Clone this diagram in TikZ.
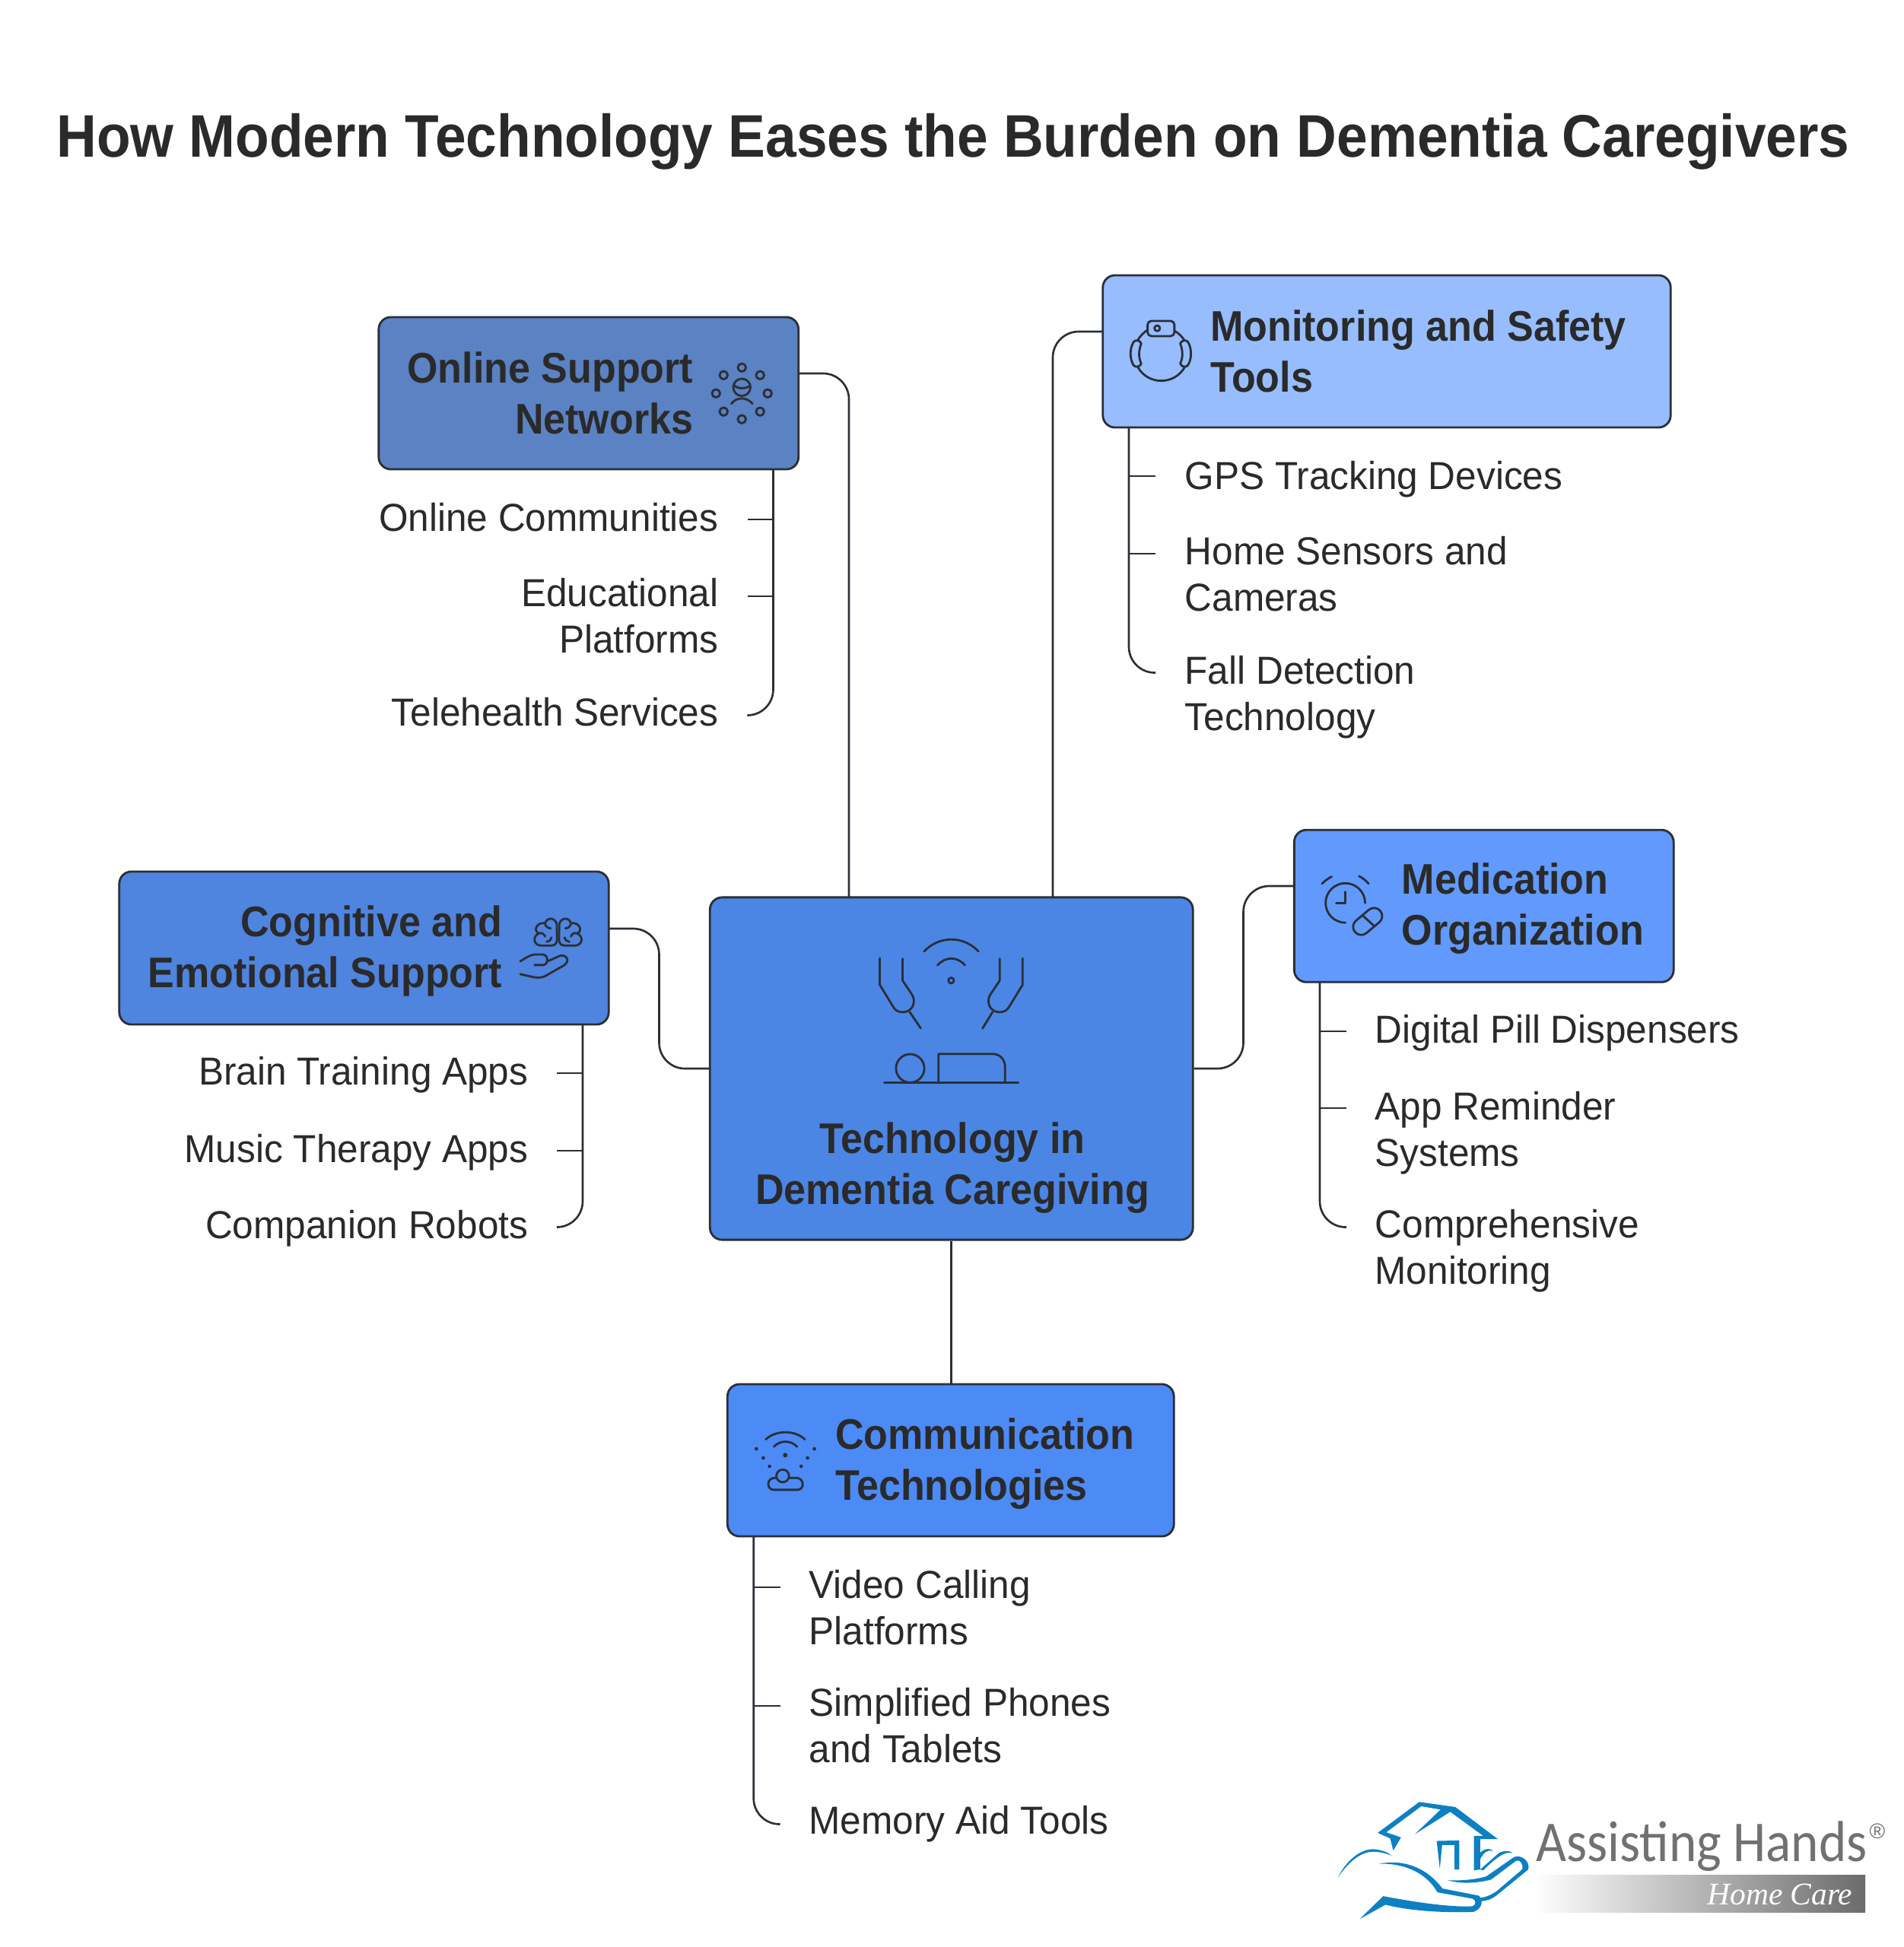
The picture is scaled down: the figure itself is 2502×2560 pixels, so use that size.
\documentclass[tikz,border=0pt]{standalone}
\usepackage{fontspec}
\setmainfont{Liberation Sans}[FakeStretch=0.965,BoldFeatures={FakeStretch=0.925}]
\newfontfamily\logofont{Carlito}
\newfontfamily\carefont{Liberation Serif}
\newfontfamily\regfont{Liberation Sans}
\definecolor{ink}{HTML}{2B2F36}
\definecolor{txt}{HTML}{2A2A2A}
\definecolor{cOnline}{HTML}{5B82C2}
\definecolor{cMonitor}{HTML}{97BDFF}
\definecolor{cMed}{HTML}{619AFC}
\definecolor{cCog}{HTML}{4F84DF}
\definecolor{cCenter}{HTML}{4B86E5}
\definecolor{cComm}{HTML}{4C8AF6}
\definecolor{logoblue}{HTML}{0D80C2}
\definecolor{logogrey}{HTML}{717171}
\tikzset{
  cardbox/.style={draw=ink,line width=0.8pt,rounded corners=0.16cm,inner sep=0pt},
  cardtext/.style={font=\fontsize{16}{19.05}\bfseries\selectfont,text=txt,inner sep=0pt},
  itemtext/.style={font=\fontsize{14.6}{17.35}\selectfont,text=txt,inner sep=0pt},
  wire/.style={draw=ink,line width=0.75pt,rounded corners=0.34cm},
  iconline/.style={draw=ink,line width=0.8pt,line cap=round,line join=round},
}
\begin{document}
\begin{tikzpicture}[x=0.01cm,y=-0.01cm]
\useasboundingbox (0,0) rectangle (2502,2560);
\fill[white] (0,0) rectangle (2502,2560);
\node[inner sep=0pt,text=txt,font=\fontsize{22.46}{26}\bfseries\selectfont] (title) at (1253,186) {How Modern Technology Eases the Burden on Dementia Caregivers};

% boxes
\node[cardbox,fill=cOnline,minimum width=5.515cm,minimum height=2cm] (online) at (773.75,517) {};
\node[cardbox,fill=cMonitor,minimum width=7.46cm,minimum height=2cm] (monitor) at (1823,462) {};
\node[cardbox,fill=cMed,minimum width=4.985cm,minimum height=2cm] (med) at (1950.75,1191.25) {};
\node[cardbox,fill=cCog,minimum width=6.43cm,minimum height=2.01cm] (cog) at (478.5,1246.5) {};
\node[cardbox,fill=cCenter,minimum width=6.345cm,minimum height=4.5cm] (center) at (1250.75,1405) {};
\node[cardbox,fill=cComm,minimum width=5.865cm,minimum height=2cm] (comm) at (1249.75,1920) {};

% card texts
\node[cardtext,anchor=east,align=right] (onlineT) at (912,516.5) {Online Support\\Networks};
\node[cardtext,anchor=west,align=left] (monitorT) at (1590.5,461.5) {Monitoring and Safety\\Tools};
\node[cardtext,anchor=west,align=left] (medT) at (1842,1194.6) {Medication\\Organization};
\node[cardtext,anchor=east,align=right] (cogT) at (661,1250) {Cognitive and\\Emotional Support};
\node[cardtext,align=center] (centerT) at (1252,1536) {Technology in\\Dementia Caregiving};
\node[cardtext,anchor=west,align=left] (commT) at (1097.5,1925) {Communication\\Technologies};

% main connectors
\coordinate (onlineOut) at (1049.5,491);
\coordinate (onlineIn) at (1116,1180);
\coordinate (monitorOut) at (1450,436);
\coordinate (monitorIn) at (1384,1180);
\coordinate (medOut) at (1701.5,1165);
\coordinate (cogOut) at (800,1221);
\draw[wire] (onlineOut) -| (onlineIn);
\draw[wire] (monitorOut) -| (monitorIn);
\draw[wire] (medOut) -- (1634.5,1165) -- (1634.5,1405) -- (center.east);
\draw[wire] (cogOut) -- (866.5,1221) -- (866.5,1405) -- (center.west);
\draw[wire] (center.south) -- (center.south |- comm.north);

% items online
\node[itemtext,anchor=east,align=right] (o1) at (945,680) {Online Communities};
\node[itemtext,anchor=east,align=right] (o2) at (945,810) {Educational\\Platforms};
\node[itemtext,anchor=east,align=right] (o3) at (945,936) {Telehealth Services};
\coordinate (oEnd) at (982.5,940.5);
\draw[wire] (1016.5,617) -- (1016.5,940.5) -- (oEnd);
\draw[wire] (1016.5,683) -- (982.5,683);
\draw[wire] (1016.5,784) -- (982.5,784);

% items monitor
\node[itemtext,anchor=west,align=left] (m1) at (1557,630) {GPS Tracking Devices};
\node[itemtext,anchor=west,align=left] (m2) at (1557,755) {Home Sensors and\\Cameras};
\node[itemtext,anchor=west,align=left] (m3) at (1557,917) {Fall Detection\\Technology};
\coordinate (mEnd) at (1519,884.5);
\draw[wire] (1484,562) -- (1484,884.5) -- (mEnd);
\draw[wire] (1484,626) -- (1519,626);
\draw[wire] (1484,728) -- (1519,728);

% items med
\node[itemtext,anchor=west,align=left] (d1) at (1807,1358) {Digital Pill Dispensers};
\node[itemtext,anchor=west,align=left] (d2) at (1807,1490) {App Reminder\\Systems};
\node[itemtext,anchor=west,align=left] (d3) at (1807,1645) {Comprehensive\\Monitoring};
\coordinate (dEnd) at (1770,1613.5);
\draw[wire] (1735,1291) -- (1735,1613.5) -- (dEnd);
\draw[wire] (1735,1356) -- (1770,1356);
\draw[wire] (1735,1457) -- (1770,1457);

% items cog
\node[itemtext,anchor=east,align=right] (c1) at (695,1413) {Brain Training Apps};
\node[itemtext,anchor=east,align=right] (c2) at (695,1515) {Music Therapy Apps};
\node[itemtext,anchor=east,align=right] (c3) at (695,1615) {Companion Robots};
\coordinate (cEnd) at (732,1613.5);
\draw[wire] (766,1347) -- (766,1613.5) -- (cEnd);
\draw[wire] (766,1411) -- (732,1411);
\draw[wire] (766,1513) -- (732,1513);

% items comm
\node[itemtext,anchor=west,align=left] (t1) at (1063,2114) {Video Calling\\Platforms};
\node[itemtext,anchor=west,align=left] (t2) at (1063,2269) {Simplified Phones\\and Tablets};
\node[itemtext,anchor=west,align=left] (t3) at (1063,2398) {Memory Aid Tools};
\coordinate (tEnd) at (1025.5,2398.5);
\draw[wire] (990.7,2020) -- (990.7,2398.5) -- (tEnd);
\draw[wire] (990.7,2087) -- (1025.5,2087);
\draw[wire] (990.7,2243) -- (1025.5,2243);

% central icon
\begin{scope}[shift={(1080,1200)},x=0.003333cm,y=-0.003333cm,iconline]
\draw (405,153) .. controls (465,90) and (560,90) .. (620,153);
\draw (458,208) .. controls (490,172) and (535,172) .. (567,208);
\draw (512,268) circle[radius=11];
\draw (230,180)--(230,285)--(285,375) .. controls (300,400) and (345,400) .. (360,370) .. controls (370,345) and (362,330) .. (355,320) -- (320,268)--(320,182);
\draw (348,392)--(392,457);
\draw (794,180)--(794,285)--(739,375) .. controls (724,400) and (679,400) .. (664,370) .. controls (654,345) and (662,330) .. (669,320)--(704,268)--(704,182);
\draw (676,392)--(636,457);
\draw (350,615) circle[radius=56];
\draw (248,672)--(777,672);
\draw (462,672)--(462,558)--(675,558) .. controls (705,558) and (725,580) .. (725,610)--(725,672);
\end{scope}

% online icon
\begin{scope}[shift={(920,450)},x=0.003333cm,y=-0.003333cm,iconline]
\foreach \p in {(166,100),(94,130),(238,130),(64,202),(268,202),(94,274),(238,274),(166,304)} \draw \p circle[radius=16];
\draw (166,178) circle[radius=34];
\draw (135,170) .. controls (150,185) and (180,185) .. (198,172);
\draw (124,243) .. controls (145,215) and (185,215) .. (208,243);
\end{scope}

% monitor icon
\begin{scope}[shift={(1470,400)},x=0.003333cm,y=-0.003333cm,iconline]
\draw (78,140) .. controls (88,125) and (100,112) .. (115,102);
\draw (222,105) .. controls (238,114) and (250,126) .. (260,140);
\draw (78,250) .. controls (120,320) and (220,320) .. (262,250);
\draw[rounded corners=0.05cm] (116,66) rectangle (222,126);
\draw (154,95) circle[radius=11];
\draw (60,150) .. controls (65,140) and (85,140) .. (91,155) .. controls (80,185) and (80,210) .. (91,235) .. controls (85,250) and (65,250) .. (60,240) .. controls (45,215) and (45,175) .. (60,150);
\draw (276,150) .. controls (271,140) and (251,140) .. (245,155) .. controls (256,185) and (256,210) .. (245,235) .. controls (251,250) and (271,250) .. (276,240) .. controls (291,215) and (291,175) .. (276,150);
\end{scope}

% med icon
\begin{scope}[shift={(1720,1130)},x=0.003333cm,y=-0.003333cm,iconline]
\draw (54,96) .. controls (65,84) and (78,75) .. (92,68);
\draw (200,66) .. controls (214,73) and (228,84) .. (238,96);
\draw (224,172) arc[start angle=0,end angle=-270,radius=78];
\draw (146,128)--(146,172)--(110,172);
\draw[rotate around={40:(234,245)},rounded corners=0.105cm] (169,213) rectangle (299,277);
\draw (215,222)--(262,265);
\end{scope}

% cog icon
\begin{scope}[shift={(670,1190)},x=0.003333cm,y=-0.003333cm,iconline]
\draw (186,75) .. controls (180,50) and (148,45) .. (140,72) .. controls (110,65) and (90,100) .. (115,112) .. controls (88,125) and (95,160) .. (125,160) -- (165,160) .. controls (180,160) and (187,150) .. (187,135) -- cycle;
\draw (196,75) .. controls (202,50) and (234,45) .. (242,72) .. controls (272,65) and (292,100) .. (267,112) .. controls (294,125) and (287,160) .. (257,160) -- (217,160) .. controls (202,160) and (195,150) .. (195,135) -- cycle;
\draw (115,112) .. controls (125,108) and (135,112) .. (140,124);
\draw (267,112) .. controls (257,108) and (247,112) .. (242,124);
\draw (146,145) .. controls (155,145) and (163,138) .. (165,128);
\draw (236,145) .. controls (227,145) and (219,138) .. (217,128);
\draw (140,72) .. controls (140,82) and (150,92) .. (162,92);
\draw (242,72) .. controls (242,82) and (232,92) .. (220,92);
\draw (42,222) .. controls (60,212) and (80,195) .. (105,195) -- (130,195) .. controls (155,197) and (155,237) .. (130,237) -- (98,237);
\draw (150,222)--(200,200) .. controls (225,195) and (240,220) .. (215,238) -- (150,275) .. controls (130,288) and (115,288) .. (95,285) -- (42,273);
\end{scope}

% comm icon
\begin{scope}[shift={(980,1870)},x=0.003333cm,y=-0.003333cm,iconline]
\foreach \p in {(43,105),(70,141),(95,174),(272,105),(245,141),(220,174)} \fill[ink] \p circle[radius=7];
\fill[ink] (157,130) circle[radius=9];
\draw (80,68) .. controls (120,30) and (195,30) .. (235,68);
\draw (112,97) .. controls (135,70) and (180,70) .. (204,97);
\draw (147,212) circle[radius=25];
\draw (122,220)--(115,220) .. controls (100,220) and (90,230) .. (90,245) .. controls (90,258) and (100,267) .. (112,267) --(205,267) .. controls (218,267) and (226,258) .. (226,245) .. controls (226,230) and (215,220) .. (202,220) -- (172,220);
\end{scope}

% logo
\begin{scope}[shift={(1700,2330)},x=0.0051cm,y=-0.003333cm]
\fill[logoblue] (218,240)--(325,118)--(418,138)--(528,265)--(482,265)--(482,385)--(466,388)--(466,252)--(490,252)--(405,157)--(314,245)--(380,148)--(330,135)--(240,238)--(278,258)--(258,310)--(250,262)--cycle;
\fill[logoblue] (370,272)--(428,270)--(428,385)--(416,385)--(416,288)--(384,288)--(378,382)--cycle;
\fill[logoblue] (482,318) .. controls (495,300) and (510,300) .. (515,312) .. controls (500,305) and (490,320) .. (482,345) -- cycle;
\fill[logoblue] (482,385) -- (530,320) .. controls (545,308) and (560,310) .. (566,320) .. controls (550,315) and (535,320) .. (490,388) -- cycle;
\fill[logoblue] (115,417) .. controls (140,340) and (180,300) .. (210,305) .. controls (230,308) and (245,318) .. (254,330) .. controls (235,318) and (215,313) .. (200,315) .. controls (170,320) and (140,360) .. (115,417) -- cycle;
\fill[logoblue] (222,362) .. controls (280,345) and (340,370) .. (385,460) -- (478,488) .. controls (490,500) and (490,540) .. (465,552) .. controls (380,558) and (290,545) .. (238,524) -- (172,580) -- (232,490) .. controls (300,510) and (400,535) .. (462,530) .. controls (472,525) and (472,505) .. (462,500) -- (372,475) .. controls (340,390) and (280,360) .. (222,362) -- cycle;
\fill[logoblue] (398,427) .. controls (430,430) and (470,425) .. (498,412) -- (570,335) .. controls (590,325) and (612,355) .. (606,385) -- (530,480) .. controls (515,500) and (500,510) .. (482,510) -- (480,497) .. controls (500,495) and (515,480) .. (525,470) -- (590,385) .. controls (595,365) and (585,345) .. (575,350) -- (510,425) .. controls (470,440) and (430,442) .. (398,427) -- cycle;
\end{scope}
\shade[left color=white,right color=logogrey!95!black] (2016,2465) rectangle (2452,2514);
\node[inner sep=0pt,anchor=base west,text=logogrey,font=\logofont\fontsize{21.6}{24}\selectfont] (brand) at (2019,2447) {\scalebox{0.91}[1]{Assisting Hands}};
\node[inner sep=0pt,text=logogrey,font=\regfont\fontsize{8}{9}\selectfont] (reg) at (2468,2408) {®};
\node[inner sep=0pt,anchor=base east,text=white,font=\carefont\itshape\fontsize{11.8}{14}\selectfont] (care) at (2436,2504) {Home Care};
\end{tikzpicture}
\end{document}
